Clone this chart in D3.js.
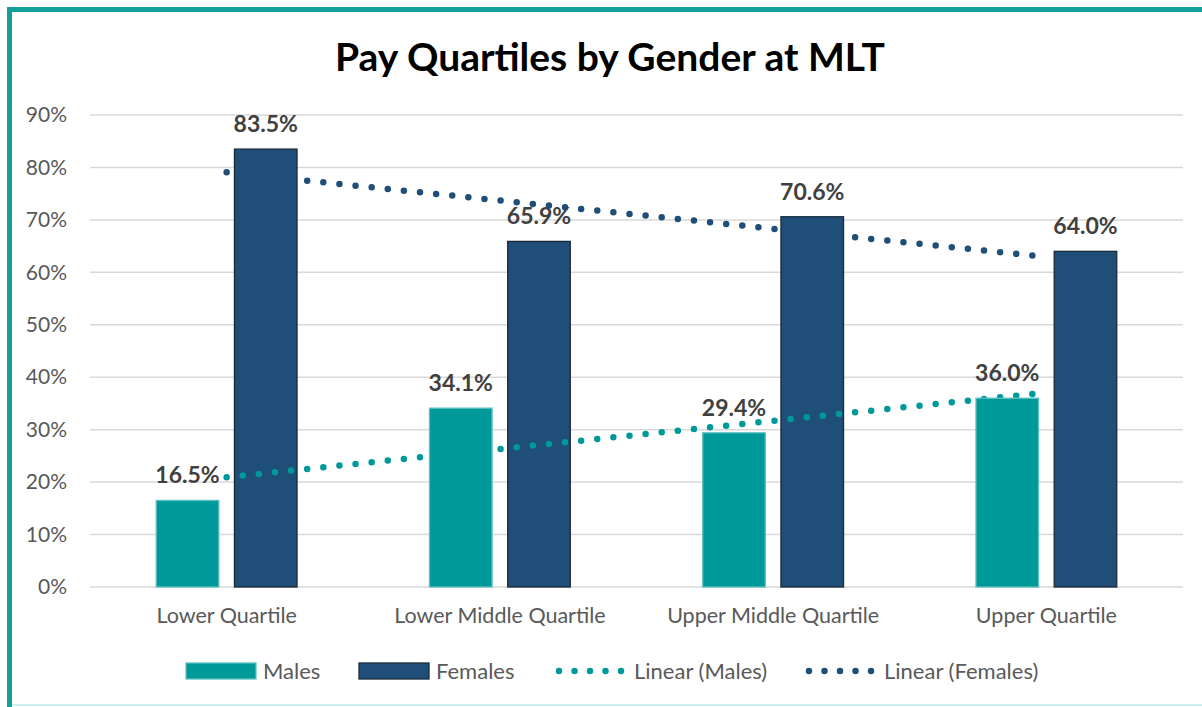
<!DOCTYPE html>
<html>
<head>
<meta charset="utf-8">
<script src="https://cdn.jsdelivr.net/npm/d3@7"></script>
<style>
  body { margin: 0; background: #fff; }
  svg { display: block; font-family: Lato, "Open Sans", sans-serif; }
</style>
</head>
<body>
<svg id="chart" width="1202" height="707"></svg>
<script>
const categories = ["Lower Quartile", "Lower Middle Quartile", "Upper Middle Quartile", "Upper Quartile"];
const males = [16.5, 34.1, 29.4, 36.0];
const females = [83.5, 65.9, 70.6, 64.0];
const yTicks = [0, 10, 20, 30, 40, 50, 60, 70, 80, 90];

const TEAL = "#009999";
const NAVY = "#1f4e79";

const svg = d3.select("#chart");
const margin = { top: 115, left: 90, right: 19, bottom: 120 };
const width = 1202 - margin.left - margin.right;
const height = 707 - margin.top - margin.bottom;

// outer frame (only top/left are visible in the original crop)
svg.append("rect")
    .attr("x", 9.5).attr("y", 9.5)
    .attr("width", 1300).attr("height", 760)
    .attr("fill", "#fff")
    .attr("stroke", "#13a09a")
    .attr("stroke-width", 5);
svg.append("line")
    .attr("x1", 12).attr("x2", 1202).attr("y1", 705).attr("y2", 705)
    .attr("stroke", "#cdeeee").attr("stroke-width", 2);

svg.append("text")
    .attr("x", 610).attr("y", 71)
    .attr("text-anchor", "middle")
    .style("font-size", "39px").style("font-weight", "bold")
    .attr("fill", "#000")
    .text("Pay Quartiles by Gender at MLT");

const g = svg.append("g").attr("transform", `translate(${margin.left},${margin.top})`);

const x = d3.scaleBand().domain(categories).range([0, width]);
const y = d3.scaleLinear().domain([0, 90]).range([height, 0]);

const barW = x.bandwidth() * 0.229;
const innerGap = barW * 0.25;

// gridlines
g.append("g").selectAll("line")
    .data(yTicks)
    .join("line")
    .attr("x1", 0).attr("x2", width)
    .attr("y1", d => y(d)).attr("y2", d => y(d))
    .attr("stroke", "#d9d9d9").attr("stroke-width", 1.5);

// y axis labels
g.append("g")
    .call(d3.axisLeft(y).tickValues(yTicks).tickFormat(d => d + "%").tickSize(0).tickPadding(23))
    .call(a => a.select(".domain").remove())
    .selectAll("text")
    .style("font-size", "21px").style("font-family", "Lato, sans-serif")
    .attr("fill", "#595959");

// x axis labels
g.append("g")
    .attr("transform", `translate(0,${height})`)
    .call(d3.axisBottom(x).tickSize(0).tickPadding(21))
    .call(a => a.select(".domain").remove())
    .selectAll("text")
    .style("font-size", "21.5px").style("font-family", "Lato, sans-serif")
    .attr("fill", "#595959");

// linear trendlines (least squares over category index)
function trend(vals) {
    const xs = vals.map((v, i) => i + 1);
    const mx = d3.mean(xs), my = d3.mean(vals);
    const slope = d3.sum(xs, (xi, i) => (xi - mx) * (vals[i] - my)) / d3.sum(xs, xi => (xi - mx) ** 2);
    const b = my - slope * mx;
    return [1, vals.length].map(xi => ({ i: xi - 1, v: b + slope * xi }));
}
const cx = i => x(categories[i]) + x.bandwidth() / 2;
const line = d3.line().x(d => cx(d.i)).y(d => y(d.v));

function drawTrend(vals, colour) {
    g.append("path")
        .datum(trend(vals))
        .attr("d", line)
        .attr("fill", "none")
        .attr("stroke", colour)
        .attr("stroke-width", 6.5)
        .attr("stroke-linecap", "round")
        .attr("stroke-dasharray", "0 16.2");
}

function drawBars(vals, offset, fill, stroke) {
    g.append("g").selectAll("rect")
        .data(vals)
        .join("rect")
        .attr("x", (d, i) => cx(i) + offset)
        .attr("y", d => y(d))
        .attr("width", barW)
        .attr("height", d => height - y(d))
        .attr("fill", fill)
        .attr("stroke", stroke)
        .attr("stroke-width", 1.3);
}

// draw order matches the original: female trend, female bars, male trend, male bars
drawTrend(females, NAVY);
drawBars(females, innerGap / 2, NAVY, "#1c2b3a");
drawTrend(males, TEAL);
drawBars(males, -innerGap / 2 - barW, TEAL, "#5cc0c0");

// value labels
function drawLabels(vals, offset) {
    g.append("g").selectAll("text")
        .data(vals)
        .join("text")
        .attr("x", (d, i) => cx(i) + offset + barW / 2)
        .attr("y", d => y(d) - 17)
        .attr("text-anchor", "middle")
        .style("font-size", "23px").style("font-weight", "bold")
        .attr("fill", "#404040")
        .text(d => d.toFixed(1) + "%");
}
drawLabels(males, -innerGap / 2 - barW);
drawLabels(females, innerGap / 2);

// legend
const legend = svg.append("g").attr("transform", "translate(0,671)");
const items = [
    { label: "Males", type: "bar", fill: TEAL, stroke: "#5cc0c0", x: 186 },
    { label: "Females", type: "bar", fill: NAVY, stroke: "#1c2b3a", x: 359 },
    { label: "Linear (Males)", type: "dots", fill: TEAL, x: 556 },
    { label: "Linear (Females)", type: "dots", fill: NAVY, x: 806 }
];
items.forEach(it => {
    if (it.type === "bar") {
        legend.append("rect")
            .attr("x", it.x).attr("y", -8)
            .attr("width", 70).attr("height", 16)
            .attr("fill", it.fill).attr("stroke", it.stroke).attr("stroke-width", 1.3);
    } else {
        legend.append("line")
            .attr("x1", it.x + 3).attr("x2", it.x + 70)
            .attr("y1", 0).attr("y2", 0)
            .attr("stroke", it.fill).attr("stroke-width", 6.5)
            .attr("stroke-linecap", "round")
            .attr("stroke-dasharray", "0 15.5");
    }
    legend.append("text")
        .attr("x", it.x + (it.type === "bar" ? 77 : 78))
        .attr("y", 0).attr("dy", "0.35em")
        .style("font-size", "22px")
        .attr("fill", "#595959")
        .text(it.label);
});
</script>
</body>
</html>
